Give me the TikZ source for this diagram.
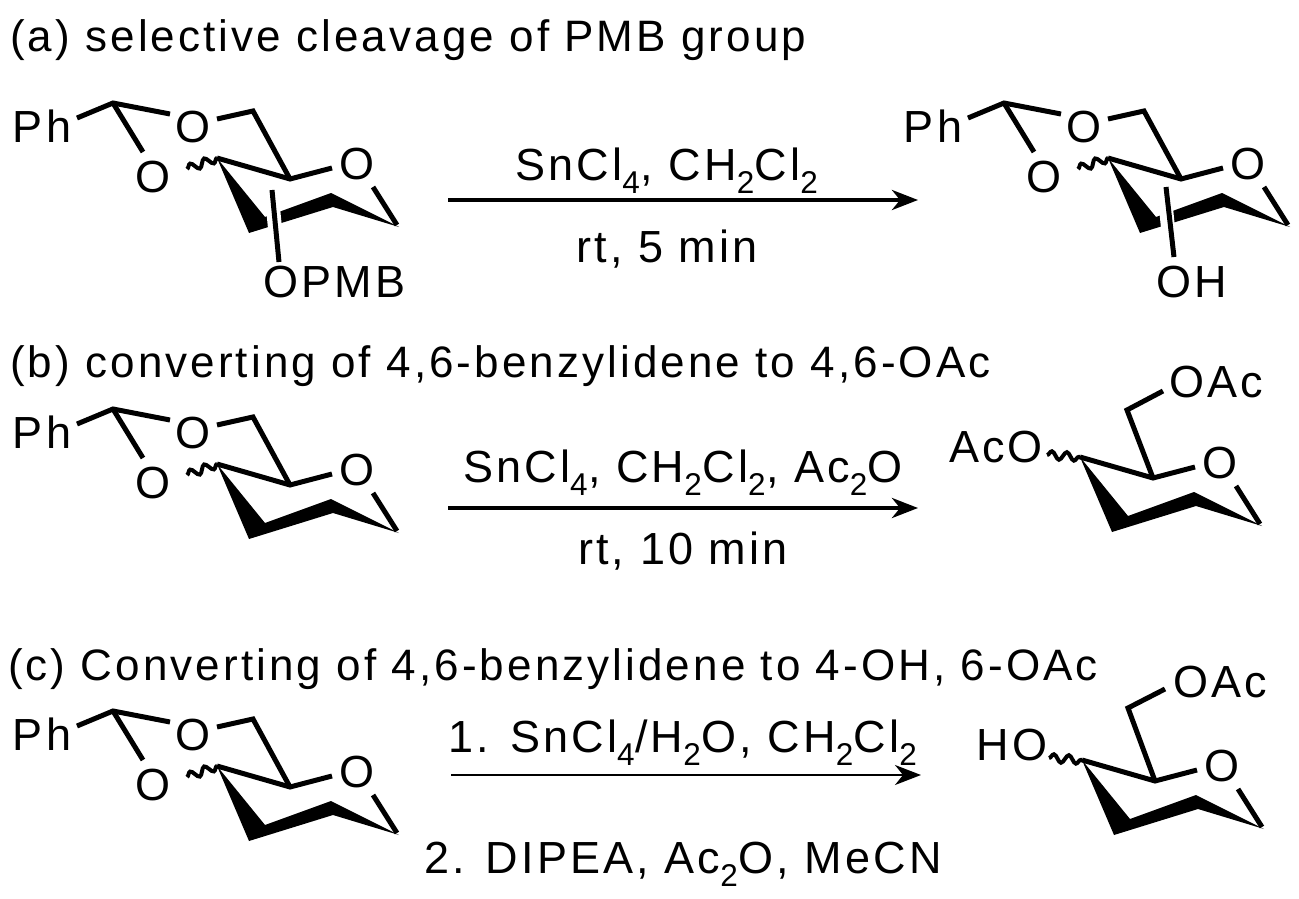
\documentclass[tikz,border=0pt]{standalone}
\usepackage{fontspec}
\setmainfont[LetterSpace=7]{Liberation Sans}
\usetikzlibrary{arrows.meta,decorations.pathmorphing}
\begin{document}
\begin{tikzpicture}[x=1pt,y=-1pt,
  bond/.style={line width=5pt,line cap=butt},
  wavy/.style={line width=4pt,decorate,decoration={snake,amplitude=4pt,segment length=15pt}},
  lab/.style={font=\fontsize{45}{52}\selectfont,inner sep=0pt,anchor=base},
  labw/.style={lab,anchor=base west},
  title/.style={font=\fontsize{44}{52}\selectfont,inner sep=0pt,anchor=base west},
  rxn/.style={line width=4pt,-{Stealth[length=26pt,width=20pt,inset=8pt]}},
  rxnthin/.style={line width=2pt,-{Stealth[length=26pt,width=20pt,inset=8pt]}}]
\useasboundingbox (0,0) rectangle (1299,899);
\fill[white] (0,0) rectangle (1299,899);
\newcommand{\ringpart}{%
  \draw[bond] (260,84)--(284,122);
  \draw[bond] (104,55)--(177,76)--(219,65);
  \fill (104,55) -- (136,130) -- (220,104) -- (286,124) -- (218,90) -- (152,114) -- cycle;
  \node[lab] (rO) at (244,76) {O};
}
\newcommand{\benzyl}{%
  \node[lab] (ph) at (-71,39) {Ph};
  \node[lab] (ot) at (80,39) {O};
  \node[lab] (ob) at (40,89) {O};
  \draw[bond] (-36,15)--(0,0)--(57,11);
  \draw[bond] (0,0)--(30,49);
  \draw[bond] (104,16)--(140,8)--(177,76);
  \draw[wavy] (74,66)--(104,55);
  \ringpart
}
% titles
\node[title] (ta) at (10,52) {(a) selective cleavage of PMB group};
\node[title] (tb) at (10,377) {(b) converting of 4,6-benzylidene to 4,6-OAc};
\node[title] (tc) at (8,680) {(c) Converting of 4,6-benzylidene to 4-OH, 6-OAc};
% (a)
\begin{scope}[shift={(113,103)}]
  \benzyl
  \draw[white,line width=14pt] (159,95)--(162,125);
  \draw[bond] (159,87)--(166,159);
  \node[labw] (opmb) at (150,194) {OPMB};
\end{scope}
\begin{scope}[shift={(1004,103)}]
  \benzyl
  \draw[white,line width=14pt] (161,95)--(164,125);
  \draw[bond] (162,84)--(170,154);
  \node[lab] (oh) at (188,194) {OH};
\end{scope}
\coordinate (a1) at (448,200); \coordinate (a2) at (918,200);
\draw[rxn] (a1)--(a2);
\node[lab] (ra1) at (667,180) {SnCl\textsubscript{4}, CH\textsubscript{2}Cl\textsubscript{2}};
\node[lab] (ra2) at (667,262) {rt, 5 min};
% (b)
\begin{scope}[shift={(113,409)}]
  \benzyl
\end{scope}
\begin{scope}[shift={(976,402)}]
  \ringpart
  \draw[bond] (177,76)--(151,8)--(187,-11);
  \draw[wavy] (71,53)--(104,55);
  \node[lab] (aco) at (20,60) {AcO};
  \node[lab] (oac) at (240,-5) {OAc};
\end{scope}
\coordinate (b1) at (448,508); \coordinate (b2) at (918,508);
\draw[rxn] (b1)--(b2);
\node[lab] (rb1) at (683,482) {SnCl\textsubscript{4}, CH\textsubscript{2}Cl\textsubscript{2}, Ac\textsubscript{2}O};
\node[lab] (rb2) at (683,564) {rt, 10 min};
% (c)
\begin{scope}[shift={(113,711)}]
  \benzyl
\end{scope}
\begin{scope}[shift={(978,705)}]
  \ringpart
  \draw[bond] (177,76)--(150,3)--(187,-16);
  \draw[wavy] (71,53)--(104,55);
  \node[lab] (ho) at (34,55) {HO};
  \node[lab] (oac2) at (242,-8) {OAc};
\end{scope}
\coordinate (c1) at (451,775); \coordinate (c2) at (921,775);
\draw[rxnthin] (c1)--(c2);
\node[lab] (rc1) at (683,752) {1. SnCl\textsubscript{4}/H\textsubscript{2}O, CH\textsubscript{2}Cl\textsubscript{2}};
\node[lab] (rc2) at (683,873) {2. DIPEA, Ac\textsubscript{2}O, MeCN};
\end{tikzpicture}
\end{document}
